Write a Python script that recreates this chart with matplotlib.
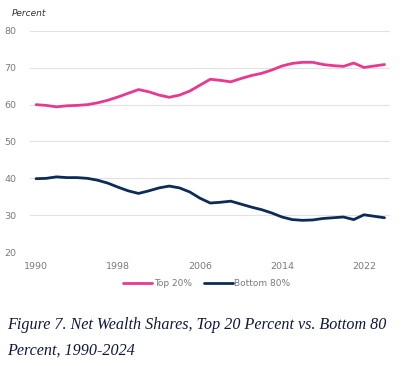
"""Net wealth shares, top 20 percent vs. bottom 80 percent, 1990-2024."""

import matplotlib

matplotlib.use("Agg")
import matplotlib.pyplot as plt

years = list(range(1990, 2025))
top_20 = [
    60.0, 59.8, 59.4, 59.7, 59.8, 60.0, 60.5, 61.2, 62.1, 63.1,
    64.1, 63.5, 62.6, 62.0, 62.6, 63.7, 65.3, 66.9, 66.6, 66.2,
    67.1, 67.9, 68.5, 69.4, 70.5, 71.2, 71.5, 71.5, 70.9, 70.6,
    70.4, 71.3, 70.1, 70.5, 70.9,
]
bottom_80 = [
    39.9, 40.0, 40.4, 40.2, 40.2, 40.0, 39.5, 38.7, 37.6, 36.6,
    35.9, 36.6, 37.4, 37.9, 37.4, 36.3, 34.6, 33.3, 33.5, 33.8,
    33.0, 32.2, 31.5, 30.6, 29.5, 28.8, 28.6, 28.7, 29.1, 29.3,
    29.5, 28.8, 30.1, 29.7, 29.3,
]
x_ticks = [1990, 1998, 2006, 2014, 2022]
y_ticks = [20, 30, 40, 50, 60, 70, 80]

PINK = "#E8388F"
NAVY = "#0C2B57"
GREY_TEXT = "#7a7a7a"

fig = plt.figure(figsize=(4.02, 3.66), dpi=100)
ax = fig.add_axes([30 / 402, 1 - 252 / 366, 360 / 402, 221 / 366])

ax.plot(years, top_20, color=PINK, lw=2.0, label="Top 20%", solid_capstyle="round")
ax.plot(years, bottom_80, color=NAVY, lw=2.0, label="Bottom 80%", solid_capstyle="round")

ax.set_xlim(1989.41, 2024.54)
ax.set_ylim(20, 80)
ax.set_xticks(x_ticks)
ax.set_yticks(y_ticks)
ax.grid(axis="y", color="#e2e2e2", lw=0.8)
ax.set_axisbelow(True)
for spine in ax.spines.values():
    spine.set_visible(False)
ax.tick_params(axis="both", length=0, labelsize=6.8, labelcolor=GREY_TEXT)
ax.tick_params(axis="y", pad=10)
ax.tick_params(axis="x", pad=7)

fig.text(12 / 402, 1 - 14 / 366, "Percent", fontsize=6.5, style="italic",
         color="#333333", va="center")

fig.legend(loc="center", bbox_to_anchor=(207 / 402, 1 - 284 / 366), ncol=2,
           frameon=False, fontsize=6.5, handlelength=3.2, handletextpad=0.2,
           columnspacing=1.3, labelcolor=GREY_TEXT)

caption = dict(family="Liberation Serif", style="italic", fontsize=11.6,
               color="#10183a", va="center")
fig.text(7 / 402, 1 - 325 / 366,
         "Figure 7. Net Wealth Shares, Top 20 Percent vs. Bottom 80", **caption)
fig.text(7 / 402, 1 - 351 / 366, "Percent, 1990-2024", **caption)

fig.savefig("out.png", dpi=100)
